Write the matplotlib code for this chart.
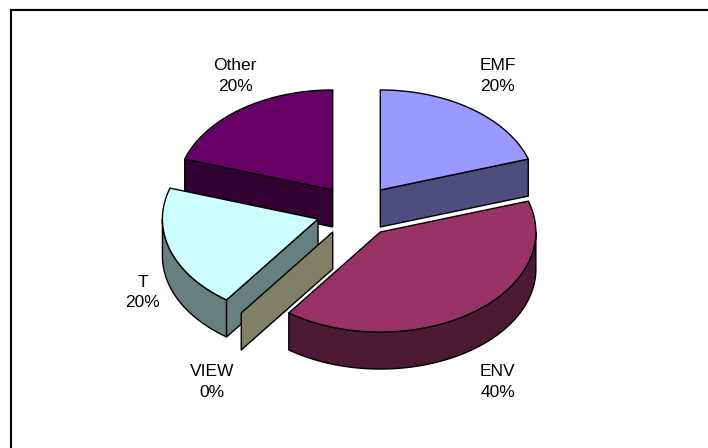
import numpy as np
import matplotlib
matplotlib.use("Agg")
import matplotlib.pyplot as plt
from matplotlib.patches import Polygon

# data
names = ["EMF", "ENV", "VIEW", "T", "Other"]
shares = [20, 40, 0, 20, 20]
top_colors = ["#9999FF", "#993366", "#FFFFCC", "#CCFFFF", "#660066"]

plt.rcParams["font.family"] = ["Liberation Sans", "DejaVu Sans"]

W, H = 708, 448
cx, cy = 356.5, 211.0       # pie centre (px)
rx, ry = 155.6, 100.0       # ellipse radii of the top face
depth = 37.0                # thickness of the pie
explode = 0.26              # fraction of the radius
label_fx, label_fy = 1.5, 1.67
# small hand nudges so labels sit where Excel put them
label_nudge = {"EMF": (4, 0), "ENV": (4, -1), "VIEW": (-7, -1),
               "T": (8, -7), "Other": (16, 0)}


def darker(c):
    r, g, b = matplotlib.colors.to_rgb(c)
    return (r * 0.5, g * 0.5, b * 0.5)


def rim(off, th, dz=0.0):
    return (off[0] + rx * np.cos(th), off[1] - ry * np.sin(th) + dz)


fig = plt.figure(figsize=(W / 100, H / 100), dpi=100)
ax = fig.add_axes([0, 0, 1, 1])
ax.set_xlim(0, W)
ax.set_ylim(H, 0)
ax.axis("off")

# chart frame
ax.plot([11, W + 5], [9, 9], color="#BBBBBB", lw=1.0, clip_on=False)
ax.plot([11, 11, W + 5], [H + 5, 10, 10], color="black", lw=1.5,
        solid_joinstyle="miter", clip_on=False)

total = float(sum(shares))
slices = []
start = np.pi / 2
for name, s, col in zip(names, shares, top_colors):
    hi = start
    lo = start - s / total * 2 * np.pi
    start = lo
    mid = (hi + lo) / 2
    off = (cx + explode * rx * np.cos(mid), cy - explode * ry * np.sin(mid))
    slices.append(dict(name=name, share=s, col=col, hi=hi, lo=lo, mid=mid, off=off))

kw = dict(edgecolor="black", lw=1.0, joinstyle="round")

# back slices first
for sl in sorted(slices, key=lambda d: -np.sin(d["mid"])):
    off, hi, lo = sl["off"], sl["hi"], sl["lo"]
    side = darker(sl["col"])

    # curved outer wall, front half only
    for k in (-1, 0, 1):
        a = max(lo, -np.pi + 2 * np.pi * k)
        b = min(hi, 0 + 2 * np.pi * k)
        if b - a > 1e-6:
            t = np.linspace(a, b, 80)
            top = [rim(off, x) for x in t]
            bot = [rim(off, x, depth) for x in t[::-1]]
            ax.add_patch(Polygon(top + bot, closed=True, facecolor=side, **kw))

    # radial walls
    apex_t = off
    apex_b = (off[0], off[1] + depth)
    for th, vis in ((hi, np.cos(hi) < -1e-6), (lo, np.cos(lo) > 1e-6)):
        if vis:
            pts = [apex_t, rim(off, th), rim(off, th, depth), apex_b]
            ax.add_patch(Polygon(pts, closed=True, facecolor=side, **kw))
            if hi == lo:
                break

    # top face
    if hi - lo > 1e-6:
        t = np.linspace(hi, lo, 120)
        pts = [apex_t] + [rim(off, x) for x in t]
        ax.add_patch(Polygon(pts, closed=True, facecolor=sl["col"], **kw))

# labels
for sl in slices:
    m = sl["mid"]
    nx, ny = label_nudge[sl["name"]]
    lx = cx + label_fx * rx * np.cos(m) + nx
    ly = cy - label_fy * ry * np.sin(m) + (depth if np.sin(m) < 0 else 0) + ny
    pct = sl["share"] / total * 100
    ax.text(lx, ly, f"{sl['name']}\n{pct:.0f}%", ha="center", va="center",
            fontsize=12.5, linespacing=1.45, color="black")

fig.savefig("out.png", dpi=100)
